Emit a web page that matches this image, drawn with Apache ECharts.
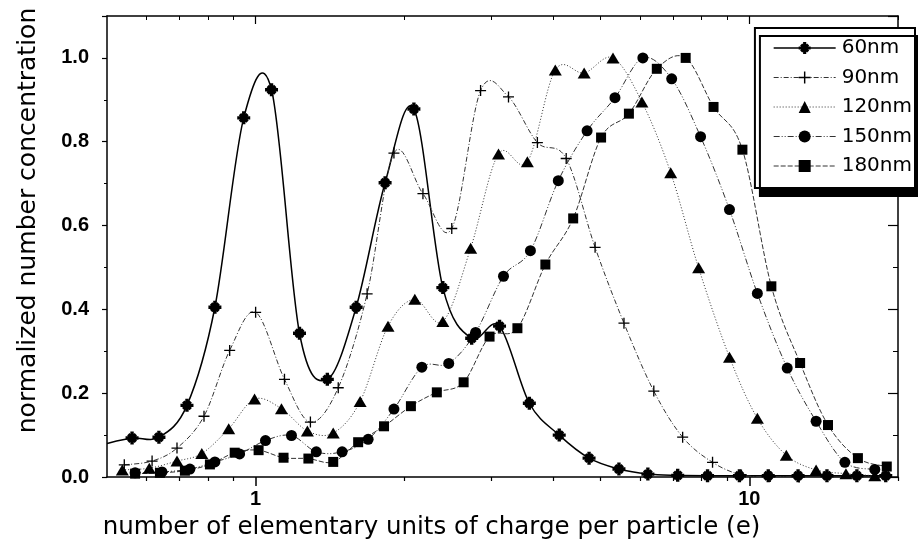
<!DOCTYPE html>
<html><head><meta charset="utf-8">
<script src="https://cdn.jsdelivr.net/npm/echarts@6/dist/echarts.min.js"></script>
<style>html,body{margin:0;padding:0;background:#fff}#c{width:918px;height:546px}</style>
</head><body><div id="c"></div>
<script>
// ---- data (x = charges per particle, y = normalized number concentration) ----
const x60 = [0.492, 0.562, 0.637, 0.726, 0.827, 0.946, 1.077, 1.227, 1.397, 1.598, 1.829, 2.092, 2.394, 2.739, 3.119, 3.584, 4.120, 4.735, 5.443, 6.229, 7.159, 8.228, 9.546, 10.92, 12.55, 14.36, 16.51, 18.89];
const y60 = [0.078, 0.093, 0.095, 0.171, 0.405, 0.857, 0.924, 0.343, 0.233, 0.405, 0.702, 0.878, 0.452, 0.331, 0.360, 0.176, 0.100, 0.045, 0.019, 0.007, 0.004, 0.003, 0.003, 0.003, 0.003, 0.003, 0.003, 0.003];
const x90 = [0.542, 0.617, 0.693, 0.786, 0.886, 1.000, 1.144, 1.291, 1.470, 1.682, 1.906, 2.182, 2.496, 2.855, 3.252, 3.721, 4.256, 4.870, 5.572, 6.404, 7.326, 8.422, 9.636, 11.02, 12.61];
const y90 = [0.029, 0.038, 0.069, 0.145, 0.302, 0.393, 0.233, 0.131, 0.213, 0.437, 0.773, 0.676, 0.593, 0.922, 0.907, 0.798, 0.760, 0.548, 0.367, 0.205, 0.095, 0.035, 0.005, 0.001, 0.0];
const x120 = [0.537, 0.609, 0.693, 0.778, 0.882, 0.995, 1.128, 1.273, 1.436, 1.628, 1.854, 2.101, 2.394, 2.726, 3.104, 3.551, 4.045, 4.628, 5.294, 6.058, 6.929, 7.892, 9.114, 10.38, 11.88, 13.65, 15.69, 17.95];
const y120 = [0.017, 0.021, 0.038, 0.056, 0.115, 0.186, 0.163, 0.110, 0.105, 0.180, 0.360, 0.424, 0.371, 0.546, 0.771, 0.752, 0.971, 0.964, 1.0, 0.895, 0.726, 0.499, 0.286, 0.140, 0.052, 0.017, 0.008, 0.003];
const x150 = [0.570, 0.646, 0.736, 0.827, 0.928, 1.047, 1.182, 1.327, 1.497, 1.690, 1.906, 2.171, 2.461, 2.790, 3.177, 3.602, 4.102, 4.692, 5.343, 6.085, 6.961, 7.964, 9.114, 10.38, 11.93, 13.65, 15.61, 17.95];
const y150 = [0.010, 0.012, 0.019, 0.036, 0.055, 0.087, 0.099, 0.060, 0.060, 0.090, 0.162, 0.262, 0.271, 0.345, 0.479, 0.540, 0.707, 0.826, 0.905, 1.0, 0.950, 0.812, 0.638, 0.438, 0.260, 0.133, 0.035, 0.018];
const x180 = [0.570, 0.640, 0.719, 0.808, 0.907, 1.014, 1.139, 1.279, 1.436, 1.613, 1.820, 2.063, 2.328, 2.638, 2.977, 3.390, 3.862, 4.397, 5.008, 5.702, 6.494, 7.430, 8.461, 9.681, 11.08, 12.67, 14.43, 16.59, 18.98];
const y180 = [0.008, 0.010, 0.015, 0.030, 0.058, 0.064, 0.046, 0.044, 0.036, 0.083, 0.121, 0.169, 0.202, 0.226, 0.335, 0.355, 0.507, 0.617, 0.810, 0.867, 0.974, 1.0, 0.883, 0.781, 0.455, 0.272, 0.124, 0.045, 0.025];

const seriesNames = ['60nm', '90nm', '120nm', '150nm', '180nm'];
const xMajorTicks = [1, 10];
const xMinorTicks = [0.6, 0.7, 0.8, 0.9, 2, 3, 4, 5, 6, 7, 8, 9, 20];
const xTickLabels = [1, 10];

// ---- styling ----
const STAR = 'path://M0,3.7L10,3.7L10,6.3L0,6.3Z M3.7,0L6.3,0L6.3,10L3.7,10Z M1.2,3.0L3.0,1.2L8.8,7.0L7.0,8.8Z M7.0,1.2L8.8,3.0L3.0,8.8L1.2,7.0Z';
const PLUS = 'path://M4.4,0L5.6,0L5.6,10L4.4,10Z M0,4.4L10,4.4L10,5.6L0,5.6Z';
const styles = [
  {symbol: STAR, size: 13, dash: 'solid', width: 1.5, color: '#000'},
  {symbol: PLUS, size: 11, dash: [5, 2, 1, 2], width: 1, color: '#333'},
  {symbol: 'triangle', size: [13, 11], dash: [1, 2], width: 1, color: '#333'},
  {symbol: 'circle', size: 11, dash: [6, 2, 1, 2, 1, 2], width: 1, color: '#333'},
  {symbol: 'rect', size: 10, dash: [5, 2], width: 1, color: '#333'}
];
const xs = [x60, x90, x120, x150, x180];
const ys = [y60, y90, y120, y150, y180];

// smooth spline curve through the data points (positions from the axes via api.coord)
function curveSeries(k) {
  const st = styles[k];
  return {
    type: 'custom', name: seriesNames[k] + ' curve',
    xAxisIndex: 0, yAxisIndex: 0, clip: true, silent: true, z: 1,
    encode: {x: 0, y: 1},
    data: xs[k].map((x, i) => [x, ys[k][i]]),
    renderItem: (params, api) => {
      if (params.dataIndexInside !== 0) return null;
      const n = params.dataInsideLength;
      const p = [];
      for (let i = 0; i < n; i++) p.push(api.coord([api.value(0, i), api.value(1, i)]));
      let d = 'M' + p[0][0] + ' ' + p[0][1];
      for (let i = 0; i < n - 1; i++) {
        const p0 = p[Math.max(i - 1, 0)], p1 = p[i], p2 = p[i + 1], p3 = p[Math.min(i + 2, n - 1)];
        const c1x = p1[0] + (p2[0] - p0[0]) / 6, c1y = p1[1] + (p2[1] - p0[1]) / 6;
        const c2x = p2[0] - (p3[0] - p1[0]) / 6, c2y = p2[1] - (p3[1] - p1[1]) / 6;
        d += ' C' + c1x + ' ' + c1y + ' ' + c2x + ' ' + c2y + ' ' + p2[0] + ' ' + p2[1];
      }
      return {
        type: 'path', shape: {pathData: d},
        style: {fill: 'none', stroke: st.color, lineWidth: st.width, lineDash: st.dash === 'solid' ? null : st.dash}
      };
    }
  };
}

const markerSeries = seriesNames.map((name, k) => ({
  name,
  type: 'line',
  xAxisIndex: 0, yAxisIndex: 0,
  clip: true,
  symbol: styles[k].symbol,
  symbolSize: styles[k].size,
  showAllSymbol: true,
  itemStyle: {color: '#000'},
  lineStyle: {opacity: 0},
  emphasis: {disabled: true},
  data: xs[k].map((x, i) => [x, ys[k][i]]),
  z: 3 + k
}));

const legendData = seriesNames.map((name, k) => ({
  name,
  lineStyle: {opacity: 1, color: styles[k].color, width: styles[k].width, type: styles[k].dash}
}));

const FONT = 'DejaVu Sans';
const axisLine = {show: true, lineStyle: {color: '#000', width: 1.5}};
const baseX = {type: 'log', logBase: 10, min: 0.5, max: 20, splitLine: {show: false}};

const option = {
  animation: false,
  backgroundColor: '#fff',
  grid: {left: 107, right: 20, top: 16, bottom: 69},
  legend: {
    orient: 'vertical', right: 3, top: 28,
    data: legendData,
    backgroundColor: '#fff', borderColor: '#000', borderWidth: 2, borderRadius: 0,
    shadowColor: '#000', shadowBlur: 0, shadowOffsetX: 5, shadowOffsetY: 8,
    padding: [9, 3, 11, 18],
    itemWidth: 62, itemHeight: 15, itemGap: 7.5,
    textStyle: {fontFamily: FONT, fontSize: 20, color: '#000', lineHeight: 22, padding: [0, 0, 0, 1]},
    selectedMode: false
  },
  xAxis: [
    Object.assign({}, baseX, {
      position: 'bottom',
      name: 'number of elementary units of charge per particle (e)',
      nameLocation: 'middle', nameGap: 38,
      nameTextStyle: {fontFamily: FONT, fontSize: 24.5, color: '#000', padding: [0, 142, 0, 0]},
      axisLine: axisLine,
      axisTick: {show: true, length: 9, customValues: xMajorTicks, lineStyle: {color: '#000', width: 1.5}},
      axisLabel: {show: true, customValues: xTickLabels, margin: 12, fontFamily: 'Liberation Sans', fontWeight: 'bold', fontSize: 20, color: '#000'}
    }),
    Object.assign({}, baseX, {
      position: 'bottom',
      axisLine: {show: false},
      axisTick: {show: true, length: 4, customValues: xMinorTicks, lineStyle: {color: '#000', width: 1.2}},
      axisLabel: {show: false}
    }),
    Object.assign({}, baseX, {
      position: 'top',
      axisLine: axisLine,
      axisTick: {show: true, inside: true, length: 8, customValues: xMajorTicks, lineStyle: {color: '#000', width: 1.2}},
      axisLabel: {show: false}
    }),
    Object.assign({}, baseX, {
      position: 'top',
      axisLine: {show: false},
      axisTick: {show: true, inside: true, length: 4, customValues: xMinorTicks, lineStyle: {color: '#000', width: 1}},
      axisLabel: {show: false}
    })
  ],
  yAxis: [
    {
      type: 'value', position: 'left', min: 0, max: 1.1, interval: 0.2,
      name: 'normalized number concentration',
      nameLocation: 'middle', nameGap: 66,
      nameTextStyle: {fontFamily: FONT, fontSize: 25, color: '#000', padding: [0, 0, 0, 52]},
      splitLine: {show: false},
      axisLine: axisLine,
      axisTick: {show: true, length: 5, lineStyle: {color: '#000', width: 1.2}},
      minorTick: {show: true, splitNumber: 2, length: 3, lineStyle: {color: '#000', width: 1}},
      axisLabel: {margin: 18, showMaxLabel: false, fontFamily: 'Liberation Sans', fontWeight: 'bold', fontSize: 20, color: '#000',
        formatter: v => v.toFixed(1)}
    },
    {
      type: 'value', position: 'right', min: 0, max: 1.1, interval: 0.2,
      splitLine: {show: false},
      axisLine: axisLine,
      axisTick: {show: true, inside: true, length: 10, lineStyle: {color: '#000', width: 1.2}},
      minorTick: {show: true, splitNumber: 2, length: 5, lineStyle: {color: '#000', width: 1}},
      axisLabel: {show: false}
    }
  ],
  series: seriesNames.map((_, k) => curveSeries(k)).concat(markerSeries)
};

const chart = echarts.init(document.getElementById('c'), null, {renderer: 'canvas'});
chart.setOption(option);
</script>
</body></html>
